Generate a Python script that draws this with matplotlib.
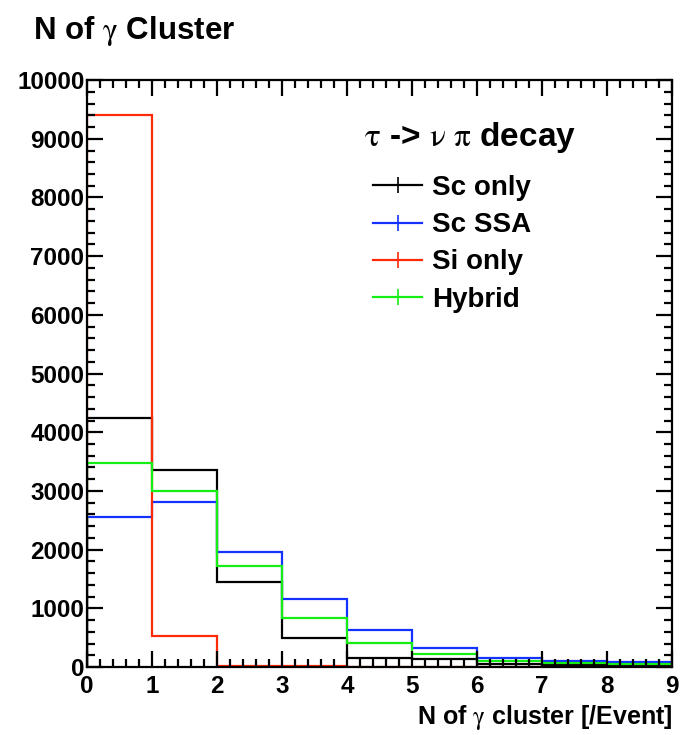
import numpy as np
import matplotlib
matplotlib.use("Agg")
import matplotlib.pyplot as plt
from matplotlib.lines import Line2D
from matplotlib.ticker import MultipleLocator

plt.rcParams["font.family"] = ["Liberation Sans", "DejaVu Sans"]
plt.rcParams["mathtext.fontset"] = "stix"

edges = np.arange(0, 10)
labels = ["Sc only", "Sc SSA", "Si only", "Hybrid"]
colors = ["black", "#1432ff", "#ff2a0a", "#14ee14"]

sc_only = [4250, 3360, 1450, 495, 155, 130, 50, 30, 25]
sc_ssa = [2560, 2810, 1960, 1160, 630, 325, 155, 100, 85]
si_only = [9400, 530, 20, 10, 5, 5, 3, 2, 2]
hybrid = [3475, 3000, 1720, 835, 405, 220, 100, 65, 45]

fig = plt.figure(figsize=(6.81, 7.35), dpi=100)
ax = fig.add_axes([0.128, 0.0925, 0.859, 0.7985])

for vals, c in zip([sc_only, sc_ssa, si_only, hybrid], colors):
    ax.stairs(vals, edges, baseline=0, color=c, linewidth=1.6)

ax.set_xlim(0, 9)
ax.set_ylim(0, 10000)
ax.xaxis.set_major_locator(MultipleLocator(1))
ax.xaxis.set_minor_locator(MultipleLocator(0.2))
ax.yaxis.set_major_locator(MultipleLocator(1000))
ax.yaxis.set_minor_locator(MultipleLocator(200))
ax.tick_params(which="both", direction="in", top=True, right=True, width=1.6)
ax.tick_params(which="major", length=11.5, labelsize=17.5)
ax.tick_params(axis="y", which="major", pad=2)
ax.tick_params(axis="x", which="major", pad=6)
ax.tick_params(which="minor", length=5.5)
for lab in ax.get_xticklabels() + ax.get_yticklabels():
    lab.set_fontweight("bold")
for s in ax.spines.values():
    s.set_linewidth(1.6)

ax.set_xlabel(r"N of $\mathrm{\gamma}$ cluster [/Event]", fontsize=18,
              fontweight="bold", loc="right", labelpad=3)
fig.text(0.048, 0.958, r"N of $\mathrm{\gamma}$ Cluster", fontsize=22.5,
         fontweight="bold", va="center")

ax.text(0.473, 0.902, r"$\mathrm{\tau}$ -> $\mathrm{\nu}$ $\mathrm{\pi}$ decay",
        transform=ax.transAxes, fontsize=24, fontweight="bold", va="center")

handles = [Line2D([], [], color=c, linewidth=1.6, marker="|", markersize=11,
                  markeredgewidth=1.2) for c in colors]
ax.legend(handles, labels, loc="upper left", bbox_to_anchor=(0.489, 0.838),
          frameon=False, prop={"weight": "bold", "size": 20},
          handlelength=1.75, handletextpad=0.36, labelspacing=0.4,
          borderpad=0, borderaxespad=0)

fig.savefig("out.png", dpi=100)
